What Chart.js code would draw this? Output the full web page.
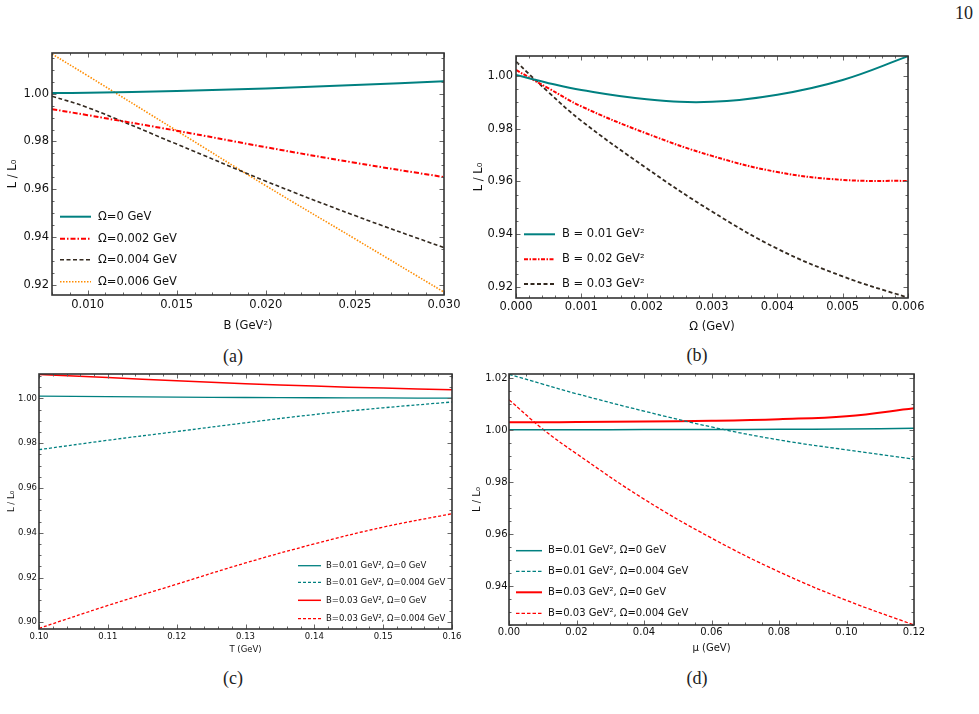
<!DOCTYPE html>
<html>
<head>
<meta charset="utf-8">
<script src="https://cdn.jsdelivr.net/npm/chart.js@4.4.1/dist/chart.umd.min.js"></script>
<style>
  body { margin: 0; background: #fff; width: 979px; height: 714px; position: relative; overflow: hidden; }
  canvas { position: absolute; }
  .cap { position: absolute; font-family: "Liberation Serif", serif; font-size: 18px; color: #222; transform: translate(-50%, -50%); white-space: nowrap; }
</style>
</head>
<body>
<div class="cap" style="left:964px;top:13px">10</div>
<div class="cap" style="left:233px;top:356px">(a)</div>
<div class="cap" style="left:697px;top:355px">(b)</div>
<div class="cap" style="left:233px;top:678px">(c)</div>
<div class="cap" style="left:697px;top:678px">(d)</div>

<canvas id="chartA" width="470" height="300" style="left:0;top:40px"></canvas>
<canvas id="chartB" width="470" height="300" style="left:470px;top:40px"></canvas>
<canvas id="chartC" width="470" height="300" style="left:0;top:365px"></canvas>
<canvas id="chartD" width="470" height="300" style="left:470px;top:365px"></canvas>

<script>
// (a) L/L0 vs B
const bValues = [0.008, 0.010, 0.015, 0.020, 0.025, 0.030];
const aOmega0   = [1.0003, 1.0004, 1.0011, 1.0022, 1.0036, 1.0052];
const aOmega002 = [0.9935, 0.9910, 0.9845, 0.9776, 0.9711, 0.9651];
const aOmega004 = [0.9989, 0.9942, 0.9789, 0.9634, 0.9490, 0.9356];
const aOmega006 = [1.0166, 1.0075, 0.9845, 0.9615, 0.9393, 0.9170];
const aXTicks = [0.010, 0.015, 0.020, 0.025, 0.030];
const aYTicks = [0.92, 0.94, 0.96, 0.98, 1.00];

// (b) L/L0 vs Omega
const omegaValues = [0, 0.0005, 0.001, 0.002, 0.003, 0.004, 0.005, 0.006];
const bB001 = [1.0004, 0.9973, 0.9947, 0.9912, 0.9902, 0.9929, 0.9985, 1.0075];
const bB002 = [1.0023, 0.9953, 0.9885, 0.9782, 0.9697, 0.9636, 0.9606, 0.9602];
const bB003 = [1.0055, 0.9938, 0.9830, 0.9650, 0.9486, 0.9345, 0.9240, 0.9159];
const bXTicks = [0, 0.001, 0.002, 0.003, 0.004, 0.005, 0.006];
const bYTicks = [0.92, 0.94, 0.96, 0.98, 1.00];

// (c) L/L0 vs T
const tValues = [0.10, 0.11, 0.12, 0.13, 0.14, 0.15, 0.16];
const cB001O0   = [1.0010, 1.0008, 1.0006, 1.0004, 1.0003, 1.0002, 1.0001];
const cB001O004 = [0.9771, 0.9813, 0.9852, 0.9891, 0.9928, 0.9958, 0.9984];
const cB003O0   = [1.0107, 1.0093, 1.0079, 1.0066, 1.0055, 1.0046, 1.0039];
const cB003O004 = [0.8973, 0.9075, 0.9170, 0.9265, 0.9350, 0.9425, 0.9485];
const cXTicks = [0.10, 0.11, 0.12, 0.13, 0.14, 0.15, 0.16];
const cYTicks = [0.90, 0.92, 0.94, 0.96, 0.98, 1.00];

// (d) L/L0 vs mu
const muValues = [0, 0.01, 0.02, 0.04, 0.06, 0.08, 0.10, 0.12];
const dB001O0   = [1.0002, 1.0002, 1.0002, 1.0003, 1.0003, 1.0004, 1.0005, 1.0008];
const dB001O004 = [1.0216, 1.0178, 1.0141, 1.0074, 1.0013, 0.9963, 0.9925, 0.9889];
const dB003O0   = [1.0031, 1.0031, 1.0032, 1.0034, 1.0037, 1.0043, 1.0054, 1.0085];
const dB003O004 = [1.0118, 1.0005, 0.9910, 0.9735, 0.9585, 0.9455, 0.9345, 0.9250];
const dXTicks = [0, 0.02, 0.04, 0.06, 0.08, 0.10, 0.12];
const dYTicks = [0.94, 0.96, 0.98, 1.00, 1.02];

const TEAL = '#008080', RED = '#ff0000', DARK = '#33291f', ORANGE = '#ff8c00';
const FONT = 'DejaVu Sans';

// frame, inward ticks (major + minor) and the in-plot legend
const frameTicks = {
  id: 'frameTicks',
  afterDatasetsDraw(chart, args, o) {
    const { ctx, chartArea: a, scales: { x, y } } = chart;
    ctx.save();
    const minors = (sc, step) => {
      const out = [];
      for (let k = Math.ceil(sc.min / step - 1e-6); k <= Math.floor(sc.max / step + 1e-6); k++) out.push(k * step);
      return out;
    };
    ctx.strokeStyle = '#666';
    ctx.lineWidth = 1;
    const xt = (v, len) => {
      const px = Math.round(x.getPixelForValue(v)) + 0.5;
      ctx.beginPath();
      ctx.moveTo(px, a.bottom); ctx.lineTo(px, a.bottom - len);
      ctx.moveTo(px, a.top); ctx.lineTo(px, a.top + len);
      ctx.stroke();
    };
    const yt = (v, len) => {
      const py = Math.round(y.getPixelForValue(v)) + 0.5;
      ctx.beginPath();
      ctx.moveTo(a.left, py); ctx.lineTo(a.left + len, py);
      ctx.moveTo(a.right, py); ctx.lineTo(a.right - len, py);
      ctx.stroke();
    };
    minors(x, o.xMinor).forEach(v => xt(v, 2.5));
    minors(y, o.yMinor).forEach(v => yt(v, 2.5));
    o.xTicks.forEach(v => xt(v, 4.5));
    o.yTicks.forEach(v => yt(v, 4.5));

    ctx.strokeStyle = '#333';
    ctx.lineWidth = 1.6;
    ctx.strokeRect(a.left, a.top, a.right - a.left, a.bottom - a.top);

    const lg = o.legend;
    ctx.font = lg.size + 'px ' + FONT;
    ctx.textBaseline = 'middle';
    ctx.fillStyle = '#111';
    chart.data.datasets.forEach((ds, i) => {
      const ly = lg.ys[i] - o.box.y;
      ctx.strokeStyle = ds.borderColor;
      ctx.lineWidth = ds.borderWidth;
      ctx.setLineDash(ds.borderDash || []);
      ctx.beginPath();
      ctx.moveTo(lg.x0 - o.box.x, ly);
      ctx.lineTo(lg.x1 - o.box.x, ly);
      ctx.stroke();
      ctx.setLineDash([]);
      ctx.fillText(ds.label, lg.tx - o.box.x, ly);
    });
    ctx.restore();
  }
};

function makeChart(id, box, area, p) {
  const yW = area.left - box.x;
  const xH = box.y + box.h - area.bottom;
  const font = { family: FONT, size: p.size };
  return new Chart(document.getElementById(id), {
    type: 'line',
    data: {
      datasets: p.series.map(s => ({
        label: s.label,
        data: p.x.map((v, i) => ({ x: v, y: s.data[i] })),
        borderColor: s.color,
        borderWidth: s.width,
        borderDash: s.dash,
        pointRadius: 0,
        fill: false,
        tension: 0.4
      }))
    },
    options: {
      responsive: false,
      animation: false,
      events: [],
      layout: { padding: { left: 0, top: area.top - box.y, right: box.x + box.w - area.right, bottom: 0 } },
      plugins: {
        legend: { display: false },
        tooltip: { enabled: false },
        frameTicks: { box, xTicks: p.xTicks, yTicks: p.yTicks, xMinor: p.xMinor, yMinor: p.yMinor, legend: p.legend }
      },
      scales: {
        x: {
          type: 'linear', min: p.xMin, max: p.xMax,
          grid: { display: false, drawTicks: false }, border: { display: false },
          afterBuildTicks: s => { s.ticks = p.xTicks.map(v => ({ value: v })); },
          afterFit: s => { s.height = xH; s.paddingLeft = 0; s.paddingRight = 0; },
          ticks: { font, color: '#111', padding: p.xPad, maxRotation: 0, autoSkip: false, callback: v => v.toFixed(p.xDec) },
          title: { display: true, text: p.xTitle, font, color: '#111', padding: { top: 0, bottom: p.xTitlePad } }
        },
        y: {
          type: 'linear', min: p.yMin, max: p.yMax,
          grid: { display: false, drawTicks: false }, border: { display: false },
          afterBuildTicks: s => { s.ticks = p.yTicks.map(v => ({ value: v })); },
          afterFit: s => { s.width = yW; s.paddingTop = 0; s.paddingBottom = 0; },
          ticks: { font, color: '#111', padding: p.yPad, autoSkip: false, callback: v => v.toFixed(2) },
          title: { display: true, text: 'L / L₀', font, color: '#111', padding: { top: p.yTitlePad, bottom: 0 } }
        }
      }
    },
    plugins: [frameTicks]
  });
}

makeChart('chartA', { x: 0, y: 40, w: 470, h: 300 }, { left: 52, top: 53, right: 444, bottom: 295 }, {
  x: bValues, xMin: 0.008, xMax: 0.030, yMin: 0.9158, yMax: 1.017,
  xTicks: aXTicks, yTicks: aYTicks, xMinor: 0.001, yMinor: 0.005, xDec: 3,
  size: 11.5, xPad: 3, yPad: 3, xTitlePad: 7, yTitlePad: 6, xTitle: 'B (GeV²)',
  series: [
    { label: 'Ω=0 GeV', data: aOmega0, color: TEAL, width: 2, dash: [] },
    { label: 'Ω=0.002 GeV', data: aOmega002, color: RED, width: 2, dash: [5, 2, 1.5, 2] },
    { label: 'Ω=0.004 GeV', data: aOmega004, color: DARK, width: 1.6, dash: [4, 2.5] },
    { label: 'Ω=0.006 GeV', data: aOmega006, color: ORANGE, width: 1.6, dash: [1.5, 1.5] }
  ],
  legend: { x0: 60, x1: 91, tx: 98, ys: [216.7, 238.7, 259.7, 281.7], size: 11.5 }
});

makeChart('chartB', { x: 470, y: 40, w: 470, h: 300 }, { left: 516, top: 56, right: 908, bottom: 298 }, {
  x: omegaValues, xMin: 0, xMax: 0.006, yMin: 0.9158, yMax: 1.0076,
  xTicks: bXTicks, yTicks: bYTicks, xMinor: 0.0002, yMinor: 0.005, xDec: 3,
  size: 11.5, xPad: 2.4, yPad: 3, xTitlePad: 6.4, yTitlePad: 2, xTitle: 'Ω (GeV)',
  series: [
    { label: 'B = 0.01 GeV²', data: bB001, color: TEAL, width: 2, dash: [] },
    { label: 'B = 0.02 GeV²', data: bB002, color: RED, width: 2, dash: [4, 1.5, 1.5, 1.5] },
    { label: 'B = 0.03 GeV²', data: bB003, color: DARK, width: 1.8, dash: [4, 2.5] }
  ],
  legend: { x0: 524, x1: 555, tx: 562, ys: [234.3, 259.3, 284], size: 11.5 }
});

makeChart('chartC', { x: 0, y: 365, w: 470, h: 300 }, { left: 39, top: 374, right: 452, bottom: 629 }, {
  x: tValues, xMin: 0.10, xMax: 0.16, yMin: 0.897, yMax: 1.0109,
  xTicks: cXTicks, yTicks: cYTicks, xMinor: 0.002, yMinor: 0.005, xDec: 2,
  size: 8.5, xPad: 2.6, yPad: 2, xTitlePad: 9.9, yTitlePad: 6.9, xTitle: 'T (GeV)',
  series: [
    { label: 'B=0.01 GeV², Ω=0 GeV', data: cB001O0, color: TEAL, width: 1.3, dash: [] },
    { label: 'B=0.01 GeV², Ω=0.004 GeV', data: cB001O004, color: TEAL, width: 1.3, dash: [3, 2] },
    { label: 'B=0.03 GeV², Ω=0 GeV', data: cB003O0, color: RED, width: 1.5, dash: [] },
    { label: 'B=0.03 GeV², Ω=0.004 GeV', data: cB003O004, color: RED, width: 1.3, dash: [3, 2] }
  ],
  legend: { x0: 298, x1: 321, tx: 326, ys: [565.7, 582.3, 600.3, 618.7], size: 8.5 }
});

makeChart('chartD', { x: 470, y: 365, w: 470, h: 300 }, { left: 509, top: 374, right: 914, bottom: 625 }, {
  x: muValues, xMin: 0, xMax: 0.12, yMin: 0.925, yMax: 1.0217,
  xTicks: dXTicks, yTicks: dYTicks, xMinor: 0.005, yMinor: 0.005, xDec: 2,
  size: 10, xPad: 1.7, yPad: 1.5, xTitlePad: 10.7, yTitlePad: 1, xTitle: 'μ (GeV)',
  series: [
    { label: 'B=0.01 GeV², Ω=0 GeV', data: dB001O0, color: TEAL, width: 1.5, dash: [] },
    { label: 'B=0.01 GeV², Ω=0.004 GeV', data: dB001O004, color: TEAL, width: 1.3, dash: [3.5, 2] },
    { label: 'B=0.03 GeV², Ω=0 GeV', data: dB003O0, color: RED, width: 2, dash: [] },
    { label: 'B=0.03 GeV², Ω=0.004 GeV', data: dB003O004, color: RED, width: 1.3, dash: [3.5, 2] }
  ],
  legend: { x0: 516, x1: 542, tx: 548, ys: [550.7, 571.3, 592.3, 613.3], size: 10 }
});
</script>
</body>
</html>
